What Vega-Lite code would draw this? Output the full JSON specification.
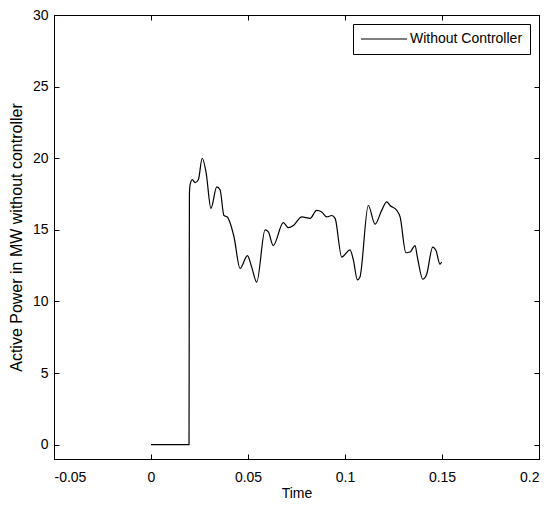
{
  "$schema": "https://vega.github.io/schema/vega-lite/v6.json",
  "width": 485,
  "height": 444,
  "autosize": {"type": "none"},
  "padding": {"left": 54, "top": 15, "right": 16, "bottom": 47},
  "background": "white",
  "config": {
    "view": {"stroke": "black", "strokeWidth": 1},
    "axis": {
      "grid": false,
      "domainColor": "black",
      "tickColor": "black",
      "labelColor": "black",
      "titleColor": "black",
      "labelFont": "Liberation Sans",
      "titleFont": "Liberation Sans",
      "labelFontSize": 14,
      "titleFontSize": 14,
      "titleFontWeight": "normal",
      "tickSize": -5
    }
  },
  "data": {
    "values": [
      {"i": 0, "t": 0, "p": 0, "s": "Without Controller"},
      {"i": 1, "t": 0.0196, "p": 0, "s": "Without Controller"},
      {"i": 2, "t": 0.0197, "p": 8.7, "s": "Without Controller"},
      {"i": 3, "t": 0.0198, "p": 17.5, "s": "Without Controller"},
      {"i": 4, "t": 0.0201, "p": 18.1, "s": "Without Controller"},
      {"i": 5, "t": 0.0213, "p": 18.5, "s": "Without Controller"},
      {"i": 6, "t": 0.0227, "p": 18.3, "s": "Without Controller"},
      {"i": 7, "t": 0.0244, "p": 18.5, "s": "Without Controller"},
      {"i": 8, "t": 0.0264, "p": 20.0, "s": "Without Controller"},
      {"i": 9, "t": 0.0284, "p": 19.0, "s": "Without Controller"},
      {"i": 10, "t": 0.0309, "p": 16.5, "s": "Without Controller"},
      {"i": 11, "t": 0.0339, "p": 18.0, "s": "Without Controller"},
      {"i": 12, "t": 0.0356, "p": 17.8, "s": "Without Controller"},
      {"i": 13, "t": 0.0376, "p": 16.0, "s": "Without Controller"},
      {"i": 14, "t": 0.0393, "p": 15.9, "s": "Without Controller"},
      {"i": 15, "t": 0.0428, "p": 14.5, "s": "Without Controller"},
      {"i": 16, "t": 0.0459, "p": 12.3, "s": "Without Controller"},
      {"i": 17, "t": 0.0497, "p": 13.2, "s": "Without Controller"},
      {"i": 18, "t": 0.0519, "p": 12.4, "s": "Without Controller"},
      {"i": 19, "t": 0.0545, "p": 11.35, "s": "Without Controller"},
      {"i": 20, "t": 0.0588, "p": 15.0, "s": "Without Controller"},
      {"i": 21, "t": 0.0605, "p": 14.85, "s": "Without Controller"},
      {"i": 22, "t": 0.063, "p": 13.9, "s": "Without Controller"},
      {"i": 23, "t": 0.0682, "p": 15.5, "s": "Without Controller"},
      {"i": 24, "t": 0.0708, "p": 15.15, "s": "Without Controller"},
      {"i": 25, "t": 0.0734, "p": 15.3, "s": "Without Controller"},
      {"i": 26, "t": 0.0777, "p": 15.9, "s": "Without Controller"},
      {"i": 27, "t": 0.082, "p": 15.8, "s": "Without Controller"},
      {"i": 28, "t": 0.0854, "p": 16.36, "s": "Without Controller"},
      {"i": 29, "t": 0.088, "p": 16.25, "s": "Without Controller"},
      {"i": 30, "t": 0.0906, "p": 15.9, "s": "Without Controller"},
      {"i": 31, "t": 0.0932, "p": 16.0, "s": "Without Controller"},
      {"i": 32, "t": 0.0949, "p": 15.8, "s": "Without Controller"},
      {"i": 33, "t": 0.0983, "p": 13.1, "s": "Without Controller"},
      {"i": 34, "t": 0.1026, "p": 13.6, "s": "Without Controller"},
      {"i": 35, "t": 0.1043, "p": 12.9, "s": "Without Controller"},
      {"i": 36, "t": 0.1064, "p": 11.5, "s": "Without Controller"},
      {"i": 37, "t": 0.1077, "p": 11.7, "s": "Without Controller"},
      {"i": 38, "t": 0.112, "p": 16.7, "s": "Without Controller"},
      {"i": 39, "t": 0.1155, "p": 15.4, "s": "Without Controller"},
      {"i": 40, "t": 0.1189, "p": 16.36, "s": "Without Controller"},
      {"i": 41, "t": 0.1215, "p": 16.95, "s": "Without Controller"},
      {"i": 42, "t": 0.1232, "p": 16.7, "s": "Without Controller"},
      {"i": 43, "t": 0.1267, "p": 16.36, "s": "Without Controller"},
      {"i": 44, "t": 0.1284, "p": 15.9, "s": "Without Controller"},
      {"i": 45, "t": 0.1314, "p": 13.4, "s": "Without Controller"},
      {"i": 46, "t": 0.1335, "p": 13.45, "s": "Without Controller"},
      {"i": 47, "t": 0.1361, "p": 13.9, "s": "Without Controller"},
      {"i": 48, "t": 0.1373, "p": 13.1, "s": "Without Controller"},
      {"i": 49, "t": 0.1401, "p": 11.55, "s": "Without Controller"},
      {"i": 50, "t": 0.1421, "p": 11.9, "s": "Without Controller"},
      {"i": 51, "t": 0.1452, "p": 13.8, "s": "Without Controller"},
      {"i": 52, "t": 0.1469, "p": 13.55, "s": "Without Controller"},
      {"i": 53, "t": 0.149, "p": 12.6, "s": "Without Controller"},
      {"i": 54, "t": 0.1498, "p": 12.75, "s": "Without Controller"}
    ]
  },
  "layer": [
    {
      "mark": {"type": "line", "strokeWidth": 1.2, "interpolate": "monotone"},
      "encoding": {
        "x": {
          "field": "t",
          "type": "quantitative",
          "scale": {"domain": [-0.05, 0.2], "nice": false, "zero": false},
          "axis": {
            "values": [-0.05, 0, 0.05, 0.1, 0.15, 0.2],
            "labelExpr": "'' + datum.value",
            "title": "Time",
            "labelPadding": 16,
            "titlePadding": 2
          }
        },
        "y": {
          "field": "p",
          "type": "quantitative",
          "scale": {"domain": [-1, 30], "nice": false, "zero": false},
          "axis": {
            "values": [0, 5, 10, 15, 20, 25, 30],
            "title": "Active Power in MW without controller",
            "titleFontSize": 16,
            "labelPadding": 11,
            "titlePadding": 8
          }
        },
        "order": {"field": "i", "type": "quantitative"},
        "color": {
          "field": "s",
          "type": "nominal",
          "scale": {"range": ["black"]},
          "legend": {
            "title": null,
            "orient": "none",
            "legendX": 299,
            "legendY": 9,
            "fillColor": "white",
            "strokeColor": "black",
            "padding": 7,
            "symbolType": "stroke",
            "symbolSize": 2116,
            "symbolStrokeWidth": 1.2,
            "symbolStrokeColor": "black",
            "clipHeight": 16,
            "labelFont": "Liberation Sans",
            "labelFontSize": 14,
            "labelColor": "black",
            "labelOffset": 2,
            "cornerRadius": 0
          }
        }
      }
    },
    {
      "mark": {"type": "line", "opacity": 0},
      "encoding": {
        "x": {
          "field": "t",
          "type": "quantitative",
          "axis": {"orient": "top", "values": [-0.05, 0, 0.05, 0.1, 0.15, 0.2], "labels": false, "title": null}
        },
        "y": {
          "field": "p",
          "type": "quantitative",
          "axis": {"orient": "right", "values": [0, 5, 10, 15, 20, 25, 30], "labels": false, "title": null}
        },
        "order": {"field": "i", "type": "quantitative"}
      }
    }
  ],
  "resolve": {"axis": {"x": "independent", "y": "independent"}}
}
